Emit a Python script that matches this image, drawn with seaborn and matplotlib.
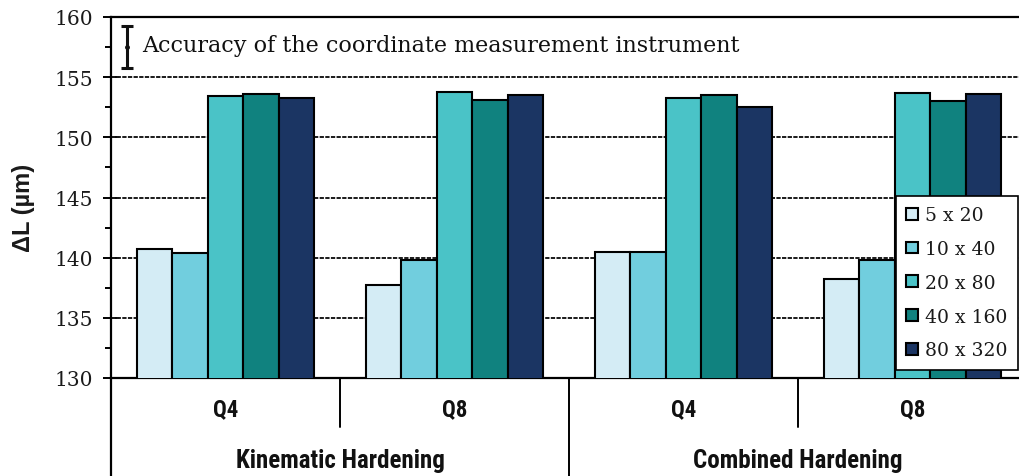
import numpy as np
import pandas as pd
import matplotlib
matplotlib.use("Agg")
import matplotlib.pyplot as plt
import matplotlib.transforms as mtransforms
from matplotlib import font_manager
from matplotlib.ticker import MultipleLocator
import seaborn as sns

# ---- data -------------------------------------------------------------
hardening = ["Kinematic Hardening", "Combined Hardening"]
elements = ["Q4", "Q8"]
mesh_sizes = ["5 x 20", "10 x 40", "20 x 80", "40 x 160", "80 x 320"]

kinematic_q4 = [140.7, 140.4, 153.4, 153.6, 153.3]
kinematic_q8 = [137.7, 139.8, 153.8, 153.1, 153.5]
combined_q4 = [140.5, 140.5, 153.3, 153.5, 152.5]
combined_q8 = [138.2, 139.8, 153.7, 153.0, 153.6]

accuracy_center = 157.5
accuracy_halfwidth = 1.75
accuracy_label = "Accuracy of the coordinate measurement instrument"

y_label = "\u0394L (\u00b5m)"
y_ticks = [130, 135, 140, 145, 150, 155, 160]

palette = ["#D4ECF5", "#71CEDE", "#4AC3C7", "#10827F", "#1B3563"]

# ---- long-form table ---------------------------------------------------
groups = [("Kinematic Hardening", "Q4", kinematic_q4),
          ("Kinematic Hardening", "Q8", kinematic_q8),
          ("Combined Hardening", "Q4", combined_q4),
          ("Combined Hardening", "Q8", combined_q8)]
rows = []
for h, e, vals in groups:
    for m, v in zip(mesh_sizes, vals):
        rows.append({"case": f"{h}|{e}", "mesh": m, "dL": v})
df = pd.DataFrame(rows)
case_order = [f"{h}|{e}" for h, e, _ in groups]


def pick_font(candidates):
    for name in candidates:
        try:
            font_manager.findfont(font_manager.FontProperties(family=name),
                                  fallback_to_default=False)
            return name
        except Exception:
            continue
    return "DejaVu Sans"


narrow = pick_font(["Liberation Sans Narrow", "DejaVu Sans Condensed",
                    "Roboto Condensed", "Liberation Sans"])
serif = "DejaVu Serif"

sns.set_theme(style="white")
plt.rcParams["font.family"] = [serif, "DejaVu Sans"]

fig = plt.figure(figsize=(10.2, 4.77), dpi=100)
W, H = 1020, 477
ax = fig.add_axes([111 / W, (H - 379) / H, (1027 - 111) / W, (379 - 18) / H])

sns.barplot(data=df, x="case", y="dL", hue="mesh", order=case_order,
            hue_order=mesh_sizes, palette=palette, width=0.775,
            edgecolor="black", linewidth=1.5, saturation=1, ax=ax, zorder=3)

ax.set_ylim(130, 160)
ax.set_xlim(-0.5, 3.5)
ax.set_yticks(y_ticks)
ax.yaxis.set_minor_locator(MultipleLocator(2.5))

# dashed grid behind the bars
for yv in y_ticks[1:-1]:
    ax.axhline(yv, color="#1a1a1a", lw=1.4, ls=(0, (2.2, 0.7)), zorder=1)

for side in ["left", "bottom", "top"]:
    ax.spines[side].set_visible(True)
    ax.spines[side].set_color("black")
    ax.spines[side].set_linewidth(1.6)
ax.spines["right"].set_visible(False)

ax.tick_params(axis="y", which="major", direction="inout", length=11.5,
               width=1.4, color="black", left=True, pad=7,
               labelsize=14.5, labelcolor="#1a1a1a")
ax.tick_params(axis="y", which="minor", direction="out", length=4.5,
               width=1.4, color="black", left=True)
ax.tick_params(axis="x", which="both", length=0, labelbottom=False)
for lab in ax.get_yticklabels():
    lab.set_family(serif)

ax.set_xlabel("")
ax.set_ylabel(y_label, fontsize=17, fontweight="bold",
              family="Liberation Sans", color="#1a1a1a")
ax.yaxis.set_label_coords(-0.083, 0.475)

# category table below the axis
trans = mtransforms.blended_transform_factory(ax.transData, ax.transAxes)
ax.plot([-0.5, -0.5], [0, -0.3], color="black", lw=1.6,
        transform=trans, clip_on=False)
for xv, y_end in [(0.5, -0.136), (1.5, -0.3), (2.5, -0.136)]:
    ax.plot([xv, xv], [0, y_end], color="black", lw=1.4,
            transform=trans, clip_on=False)

for i, (h, e, _) in enumerate(groups):
    ax.text(i, -0.085, e, transform=trans, ha="center", va="center",
            fontsize=16.5, fontweight="bold", family=narrow, color="#111111")
for j, h in enumerate(hardening):
    ax.text(2 * j + 0.5, -0.227, h, transform=trans, ha="center",
            va="center", fontsize=18, fontweight="bold", family=narrow,
            color="#111111")

# measurement accuracy marker
x_err = ax.get_xlim()[0] + 16 / 229
ax.errorbar([x_err], [accuracy_center], yerr=[accuracy_halfwidth],
            fmt="o", ms=2.5, color="#111111", ecolor="#111111",
            elinewidth=2.2, capsize=4.5, capthick=2.2, zorder=5)
ax.text(ax.get_xlim()[0] + 31 / 229, accuracy_center + 0.2, accuracy_label,
        ha="left", va="center", fontsize=16, family=serif, color="#111111")

# legend
ax.legend_.remove()
handles = [plt.Rectangle((0, 0), 1, 1, facecolor=c, edgecolor="black",
                         linewidth=1.5) for c in palette]
leg = fig.legend(handles, mesh_sizes, loc="upper right",
                 bbox_to_anchor=(1018 / W, 1 - 197 / H),
                 bbox_transform=fig.transFigure, frameon=True,
                 fancybox=False, shadow=False, borderaxespad=0,
                 prop={"family": serif, "size": 13.5},
                 handlelength=0.6, handleheight=0.6, handletextpad=0.4,
                 labelspacing=0.84, borderpad=0.55)
leg.get_frame().set_edgecolor("black")
leg.get_frame().set_linewidth(1.2)
leg.get_frame().set_facecolor("white")
leg.get_frame().set_alpha(1)
for t in leg.get_texts():
    t.set_color("#1a1a1a")

fig.savefig("out.png", dpi=100)
